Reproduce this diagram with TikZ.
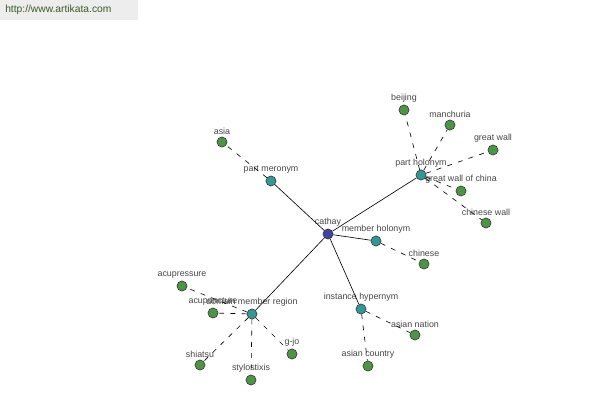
\documentclass[tikz,border=0pt]{standalone}
\usepackage{fontspec}
\setmainfont{Liberation Sans}
\usepackage{tikz}
\usetikzlibrary{shapes,arrows,positioning}
\definecolor{hubcol}{RGB}{64,68,156}
\definecolor{relcol}{RGB}{52,150,150}
\definecolor{leafcol}{RGB}{78,148,70}
\definecolor{labcol}{RGB}{70,70,70}
\definecolor{urlcol}{RGB}{60,90,40}
\tikzstyle{hub} = [circle, draw=black!80, fill=hubcol, inner sep=0pt, minimum size=7.2pt]
\tikzstyle{relation} = [circle, draw=black!80, fill=relcol, inner sep=0pt, minimum size=7.2pt]
\tikzstyle{leaf} = [circle, draw=black!80, fill=leafcol, inner sep=0pt, minimum size=7.2pt]
\tikzstyle{line} = [draw, black, line width=0.45pt]
\tikzstyle{dashline} = [draw, black, line width=0.45pt, dash pattern=on 3.5pt off 4.5pt]
\tikzset{every label/.style={font=\fontsize{6.3}{7}\selectfont, text=labcol, inner sep=1pt, label distance=0.6pt}}

\begin{document}
\begin{tikzpicture}[x=0.025cm, y=-0.025cm]
    \useasboundingbox (0,0) rectangle (600,400);
    \fill [black!7] (0,0) rectangle (138,20);
    \node [anchor=west, text=urlcol, font=\fontsize{7.3}{8}\selectfont, inner sep=0pt] (url) at (5,10) {http://www.artikata.com};
    % centre
    \node [hub, label=above:{cathay}] (cathay) at (328,234) {};
    % relations
    \node [relation, label=above:{part meronym}] (meronym) at (271,181) {};
    \node [relation, label=above:{part holonym}] (holonym) at (421,175) {};
    \node [relation, label=above:{member holonym}] (member) at (376,241) {};
    \node [relation, label=above:{instance hypernym}] (hypernym) at (361,309) {};
    \node [relation, label=above:{domain member region}] (domain) at (252,314) {};
    % leaves
    \node [leaf, label=above:{asia}] (asia) at (222,142) {};
    \node [leaf, label=above:{beijing}] (beijing) at (404,110) {};
    \node [leaf, label=above:{manchuria}] (manchuria) at (450,125) {};
    \node [leaf, label=above:{great wall}] (greatwall) at (493,150) {};
    \node [leaf, label=above:{great wall of china}] (wallchina) at (461,191) {};
    \node [leaf, label=above:{chinese wall}] (chinesewall) at (486,223) {};
    \node [leaf, label=above:{chinese}] (chinese) at (424,264) {};
    \node [leaf, label=above:{asian nation}] (nation) at (415,335) {};
    \node [leaf, label=above:{asian country}] (country) at (368,366) {};
    \node [leaf, label=above:{acupressure}] (acupressure) at (182,286) {};
    \node [leaf, label=above:{acupuncture}] (acupuncture) at (213,313) {};
    \node [leaf, label=above:{shiatsu}] (shiatsu) at (200,365) {};
    \node [leaf, label=above:{stylostixis}] (stylostixis) at (251,380) {};
    \node [leaf, label=above:{g-jo}] (gjo) at (292,354) {};
    % edges
    \path [line] (cathay) -- (meronym);
    \path [line] (cathay) -- (holonym);
    \path [line] (cathay) -- (member);
    \path [line] (cathay) -- (hypernym);
    \path [line] (cathay) -- (domain);
    \path [dashline] (meronym) -- (asia);
    \path [dashline] (holonym) -- (beijing);
    \path [dashline] (holonym) -- (manchuria);
    \path [dashline] (holonym) -- (greatwall);
    \path [dashline] (holonym) -- (wallchina);
    \path [dashline] (holonym) -- (chinesewall);
    \path [dashline] (member) -- (chinese);
    \path [dashline] (hypernym) -- (nation);
    \path [dashline] (hypernym) -- (country);
    \path [dashline] (domain) -- (acupressure);
    \path [dashline] (domain) -- (acupuncture);
    \path [dashline] (domain) -- (shiatsu);
    \path [dashline] (domain) -- (stylostixis);
    \path [dashline] (domain) -- (gjo);
\end{tikzpicture}
\end{document}
